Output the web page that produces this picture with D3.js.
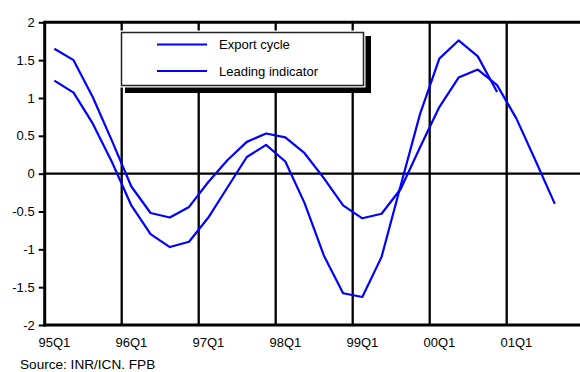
<!DOCTYPE html>
<html>
<head>
<meta charset="utf-8">
<script src="https://cdn.jsdelivr.net/npm/d3@7"></script>
<style>
  html, body { margin: 0; padding: 0; background: #fff; }
  svg { display: block; font-family: "Liberation Sans", Arial, sans-serif; }
</style>
</head>
<body>
<svg id="chart" width="580" height="372"></svg>
<script>
// ---- data ----
const categories = ["95Q1","95Q2","95Q3","95Q4","96Q1","96Q2","96Q3","96Q4",
  "97Q1","97Q2","97Q3","97Q4","98Q1","98Q2","98Q3","98Q4",
  "99Q1","99Q2","99Q3","99Q4","00Q1","00Q2","00Q3","00Q4",
  "01Q1","01Q2","01Q3","01Q4"];
const tickLabels = ["95Q1","96Q1","97Q1","98Q1","99Q1","00Q1","01Q1"];
const exportCycle = [1.23, 1.07, 0.66, 0.15, -0.42, -0.80, -0.97, -0.90,
  -0.58, -0.18, 0.22, 0.38, 0.16, -0.39, -1.08, -1.58,
  -1.63, -1.10, -0.15, 0.79, 1.52, 1.76, 1.55, 1.08,
  null, null, null, null];
const leadingIndicator = [1.65, 1.50, 1.01, 0.43, -0.17, -0.52, -0.58, -0.44,
  -0.11, 0.18, 0.42, 0.53, 0.48, 0.27, -0.06, -0.42,
  -0.59, -0.53, -0.20, 0.35, 0.88, 1.27, 1.375, 1.17,
  0.73, 0.17, -0.40, null];
const yTicks = [-2, -1.5, -1, -0.5, 0, 0.5, 1, 1.5, 2];
const seriesNames = ["Export cycle", "Leading indicator"];
const sourceText = "Source: INR/ICN. FPB";

// ---- layout ----
const svg = d3.select("#chart");
const mLeft = 44.7, mTop = 22.3, mBottom = 325, mRight = 44.7 + 28 * 19.25;

const x = d3.scaleBand().domain(categories).range([mLeft, mRight]).padding(0);
const y = d3.scaleLinear().domain([-2, 2]).range([mBottom, mTop]);
const cx = c => x(c) + x.bandwidth() / 2;

// vertical gridlines at year boundaries
svg.append("g").selectAll("line")
  .data(tickLabels.slice(1))
  .join("line")
  .attr("x1", d => x(d)).attr("x2", d => x(d))
  .attr("y1", mTop).attr("y2", mBottom)
  .attr("stroke", "#000").attr("stroke-width", 2.3);

// zero line
svg.append("line")
  .attr("x1", mLeft).attr("x2", mRight)
  .attr("y1", y(0)).attr("y2", y(0))
  .attr("stroke", "#000").attr("stroke-width", 2.3);

// top border
svg.append("line")
  .attr("x1", mLeft).attr("x2", mRight)
  .attr("y1", mTop).attr("y2", mTop)
  .attr("stroke", "#000").attr("stroke-width", 3);

// series lines
const line = d3.line()
  .defined(d => d.v !== null)
  .x(d => cx(d.c))
  .y(d => y(d.v));

[leadingIndicator, exportCycle].forEach(arr => {
  svg.append("path")
    .datum(categories.map((c, i) => ({ c: c, v: arr[i] })))
    .attr("d", line)
    .attr("fill", "none")
    .attr("stroke", "#0000ff")
    .attr("stroke-width", 2.2)
    .attr("stroke-linejoin", "round");
});

// y axis
const yAxis = d3.axisLeft(y).tickValues(yTicks).tickSize(6).tickPadding(4)
  .tickFormat(d => String(d));
const gy = svg.append("g").attr("transform", `translate(${mLeft},0)`).call(yAxis);
gy.select(".domain").remove();
gy.selectAll(".tick line").attr("stroke", "#000").attr("stroke-width", 2);
gy.selectAll(".tick text").attr("font-size", 13).attr("fill", "#000")
  .attr("font-family", "Liberation Sans, Arial, sans-serif");
svg.append("line")
  .attr("x1", mLeft).attr("x2", mLeft)
  .attr("y1", mTop - 1.5).attr("y2", mBottom + 1.5)
  .attr("stroke", "#000").attr("stroke-width", 3);

// x axis
const xAxis = d3.axisBottom(x).tickValues(tickLabels).tickSize(0).tickPadding(13);
const gx = svg.append("g").attr("transform", `translate(0,${mBottom})`).call(xAxis);
gx.select(".domain").remove();
gx.selectAll(".tick text").attr("font-size", 13).attr("fill", "#000")
  .attr("font-family", "Liberation Sans, Arial, sans-serif");
svg.append("line")
  .attr("x1", mLeft - 1.5).attr("x2", mRight)
  .attr("y1", mBottom).attr("y2", mBottom)
  .attr("stroke", "#000").attr("stroke-width", 3);

// legend
const lg = svg.append("g");
lg.append("rect").attr("x", 125).attr("y", 36).attr("width", 246).attr("height", 57).attr("fill", "#000");
lg.append("rect").attr("x", 119.5).attr("y", 30.5).attr("width", 246).attr("height", 57).attr("fill", "#fff");
lg.append("rect").attr("x", 121.5).attr("y", 32.5).attr("width", 242).attr("height", 53)
  .attr("fill", "#fff").attr("stroke", "#222").attr("stroke-width", 1.5);
seriesNames.forEach((name, i) => {
  const ly = 44.5 + i * 26.5;
  lg.append("line").attr("x1", 157).attr("x2", 207).attr("y1", ly).attr("y2", ly)
    .attr("stroke", "#0000ff").attr("stroke-width", 2.2);
  lg.append("text").attr("x", 219).attr("y", ly + 4.8)
    .attr("font-size", 13).attr("fill", "#000").text(name);
});

// source
svg.append("text").attr("x", 20).attr("y", 369)
  .attr("font-size", 13.6).attr("fill", "#000").text(sourceText);
</script>
</body>
</html>
